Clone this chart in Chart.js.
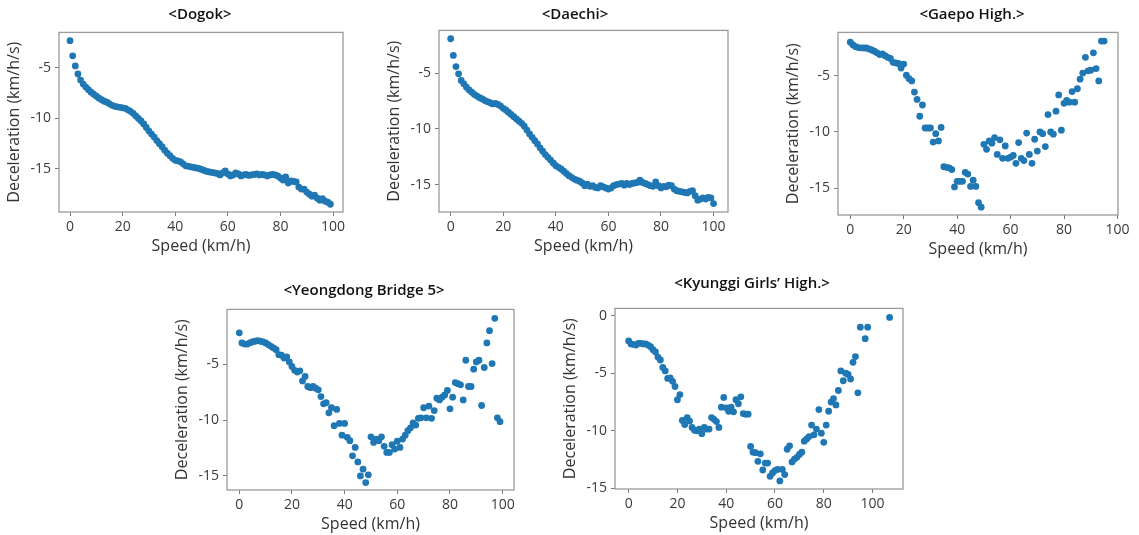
<!DOCTYPE html>
<html>
<head>
<meta charset="utf-8">
<script src="https://cdn.jsdelivr.net/npm/chart.js@4.4.0/dist/chart.umd.min.js"></script>
<style>
    html, body { margin: 0; padding: 0; background: #fff; }
    body { width: 1139px; height: 535px; position: relative; overflow: hidden; }
    canvas { position: absolute; }
    .panel-title {
        position: absolute;
        transform: translate(-50%, -50%);
        white-space: nowrap;
        font-family: "Open Sans", sans-serif;
        font-weight: 600;
        font-size: 15px;
        color: #111;
    }
</style>
</head>
<body>
<script>
const speedTicks = [0, 20, 40, 60, 80, 100];
const decelTicks = [-15, -10, -5];
const kyunggiDecelTicks = [-15, -10, -5, 0];

const dogokSpeed = [
    0, 1, 2, 3, 4, 5, 6, 7, 8, 9, 10, 11, 12, 13, 14, 15, 16, 17, 18, 19,
    20, 21, 22, 23, 24, 25, 26, 27, 28, 29, 30, 31, 32, 33, 34, 35, 36, 37, 38, 39,
    40, 41, 42, 43, 44, 45, 46, 47, 48, 49, 50, 51, 52, 53, 54, 55, 56, 57, 58, 59,
    60, 61, 62, 63, 64, 65, 66, 67, 68, 69, 70, 71, 72, 73, 74, 75, 76, 77, 78, 79,
    80, 81, 82, 83, 84, 85, 86, 87, 88, 89, 90, 91, 92, 93, 94, 95, 96, 97, 98, 99
];
const dogokDecel = [
    -2.3, -3.8, -4.8, -5.6, -6.2, -6.6, -6.9, -7.15, -7.4, -7.6,
    -7.8, -8.0, -8.15, -8.3, -8.4, -8.55, -8.7, -8.8, -8.85, -8.9,
    -8.95, -9.0, -9.15, -9.3, -9.5, -9.75, -10.0, -10.25, -10.55, -10.9,
    -11.25, -11.55, -11.85, -12.2, -12.5, -12.8, -13.15, -13.45, -13.7, -13.95,
    -14.15, -14.2, -14.3, -14.5, -14.7, -14.75, -14.8, -14.85, -14.9, -14.95,
    -15.05, -15.15, -15.25, -15.3, -15.35, -15.4, -15.45, -15.6, -15.4, -15.2,
    -15.5, -15.7, -15.6, -15.4, -15.5, -15.7, -15.6, -15.55, -15.65, -15.6,
    -15.55, -15.5, -15.6, -15.55, -15.6, -15.7, -15.6, -15.55, -15.6, -15.7,
    -15.9, -16.1, -15.8, -16.4, -16.2, -16.25, -16.3, -16.8, -17.0, -17.0,
    -17.3, -17.5, -17.7, -17.6, -17.9, -18.1, -17.95, -18.2, -18.3, -18.5
];

const daechiSpeed = [
    0, 1, 2, 3, 4, 5, 6, 7, 8, 9, 10, 11, 12, 13, 14, 15, 16, 17, 18, 19,
    20, 21, 22, 23, 24, 25, 26, 27, 28, 29, 30, 31, 32, 33, 34, 35, 36, 37, 38, 39,
    40, 41, 42, 43, 44, 45, 46, 47, 48, 49, 50, 51, 52, 53, 54, 55, 56, 57, 58, 59,
    60, 61, 62, 63, 64, 65, 66, 67, 68, 69, 70, 71, 72, 73, 74, 75, 76, 77, 78, 79,
    80, 81, 82, 83, 84, 85, 86, 87, 88, 89, 90, 91, 92, 93, 94, 95, 96, 97, 98, 99, 100
];
const daechiDecel = [
    -1.9, -3.4, -4.4, -5.05, -5.65, -5.95, -6.25, -6.5, -6.7, -6.9,
    -7.05, -7.2, -7.3, -7.45, -7.55, -7.65, -7.75, -7.7, -7.8, -7.95,
    -8.15, -8.3, -8.5, -8.7, -8.9, -9.1, -9.3, -9.5, -9.75, -10.1,
    -10.45, -10.75, -11.05, -11.35, -11.7, -12.0, -12.3, -12.55, -12.8, -13.05,
    -13.3, -13.45, -13.6, -13.8, -14.0, -14.2, -14.35, -14.5, -14.6, -14.7,
    -14.85, -15.1, -14.95, -15.15, -15.1, -15.25, -15.3, -15.1, -15.2, -15.3,
    -15.4, -15.3, -15.1, -15.0, -14.95, -14.9, -15.05, -14.9, -15.0, -14.9,
    -14.85, -14.8, -14.6, -14.8, -14.9, -15.0, -15.1, -15.15, -14.75, -15.1,
    -15.3, -15.15, -15.2, -15.05, -15.1, -15.4, -15.55, -15.6, -15.65, -15.7,
    -15.75, -15.6, -15.55, -16.0, -16.4, -16.3, -16.2, -16.3, -16.15, -16.2,
    -16.7
];

const gaepoSpeed = [
    0, 1, 2, 3, 4, 5, 6, 7, 8, 9, 10, 11, 12, 13, 14, 15, 16, 17, 18, 19,
    20, 21, 22, 23, 24, 25, 26, 27, 28, 29, 30, 31, 32, 33, 34, 35, 36, 37, 38, 39,
    40, 41, 42, 43, 44, 45, 46, 47, 48, 49, 50, 51, 52, 53, 54, 55, 56, 57, 58, 59,
    60, 61, 62, 63, 64, 65, 66, 67, 68, 69, 70, 71, 72, 73, 74, 75, 76, 77, 78, 79,
    80, 81, 82, 83, 84, 85, 86, 87, 88, 89, 90, 91, 92, 93, 94, 95
];
const gaepoDecel = [
    -2.0, -2.25, -2.4, -2.48, -2.5, -2.52, -2.52, -2.6, -2.7, -2.8,
    -2.95, -3.1, -3.05, -3.2, -3.35, -3.45, -3.8, -3.85, -3.9, -4.3,
    -3.95, -4.95, -5.25, -5.45, -6.45, -7.1, -8.6, -7.6, -9.65, -9.65,
    -9.65, -10.9, -10.15, -10.8, -9.6, -13.1, -13.15, -13.2, -13.35, -14.9,
    -14.4, -14.4, -14.4, -13.6, -13.75, -14.85, -14.3, -14.85, -16.3, -16.7,
    -11.1, -11.55, -10.8, -11.0, -10.5, -12.0, -10.7, -12.35, -11.25, -12.35,
    -12.25, -12.1, -12.8, -10.95, -12.35, -12.55, -10.1, -12.0, -12.8, -10.65,
    -11.7, -10.0, -10.15, -11.3, -8.45, -10.0, -10.2, -8.15, -6.7, -9.85,
    -7.45, -7.2, -7.35, -6.4, -7.35, -6.15, -5.3, -4.75, -3.35, -4.55,
    -4.5, -2.95, -4.35, -5.45, -1.9, -1.9
];

const yeongdongSpeed = [
    0, 1, 2, 3, 4, 5, 6, 7, 8, 9, 10, 11, 12, 13, 14, 15, 16, 17, 18, 19,
    20, 21, 22, 23, 24, 25, 26, 27, 28, 29, 30, 31, 32, 33, 34, 35, 36, 37, 38, 39,
    40, 41, 42, 43, 44, 45, 46, 47, 48, 49, 50, 51, 52, 53, 54, 55, 56, 57, 58, 59,
    60, 61, 62, 63, 64, 65, 66, 67, 68, 69, 70, 71, 72, 73, 74, 75, 76, 77, 78, 79,
    80, 81, 82, 83, 84, 85, 86, 87, 88, 89, 90, 91, 92, 93, 94, 95, 96, 97, 98, 99
];
const yeongdongDecel = [
    -2.2, -3.1, -3.2, -3.2, -3.1, -3.0, -2.95, -2.9, -2.95, -3.0,
    -3.1, -3.25, -3.4, -3.55, -3.7, -4.15, -4.2, -4.45, -4.35, -4.8,
    -5.2, -5.55, -5.7, -5.6, -6.5, -6.1, -7.0, -7.1, -7.0, -7.15,
    -7.3, -7.9, -8.55, -8.45, -9.35, -8.9, -10.5, -9.05, -10.3, -11.35,
    -10.3, -11.55, -11.85, -13.2, -12.45, -13.75, -15.0, -14.4, -15.6, -14.9,
    -11.5, -12.0, -11.7, -11.85, -11.5, -12.35, -12.9, -12.9, -12.2, -12.6,
    -11.9, -12.45, -11.7, -11.35, -10.95, -10.7, -10.25, -10.45, -9.85, -9.8,
    -8.9, -9.8, -8.75, -9.85, -9.15, -8.05, -8.2, -7.95, -7.75, -7.35,
    -9.0, -7.95, -6.65, -6.75, -6.85, -8.2, -4.65, -7.0, -7.0, -5.45,
    -4.8, -4.65, -8.7, -5.3, -3.1, -2.0, -4.95, -0.9, -9.8, -10.15
];

const kyunggiSpeed = [
    0, 1, 2, 3, 4, 5, 6, 7, 8, 9, 10, 11, 12, 13, 14, 15, 16, 17, 18, 19,
    20, 21, 22, 23, 24, 25, 26, 27, 28, 29, 30, 31, 32, 33, 34, 35, 36, 37, 38, 39,
    40, 41, 42, 43, 44, 45, 46, 47, 48, 49, 50, 51, 52, 53, 54, 55, 56, 57, 58, 59,
    60, 61, 62, 63, 64, 65, 66, 67, 68, 69, 70, 71, 72, 73, 74, 75, 76, 77, 78, 79,
    80, 81, 82, 83, 84, 85, 86, 87, 88, 89, 90, 91, 92, 93, 94, 95, 97, 98, 107
];
const kyunggiDecel = [
    -2.2, -2.45, -2.5, -2.55, -2.4, -2.4, -2.45, -2.45, -2.55, -2.7,
    -2.95, -3.15, -3.6, -3.85, -4.5, -4.8, -5.45, -5.4, -5.7, -6.15,
    -7.3, -6.85, -9.1, -9.45, -8.85, -9.15, -9.7, -9.95, -10.0, -9.85,
    -10.25, -9.7, -9.85, -9.85, -8.85, -9.0, -9.2, -9.7, -7.95, -7.1,
    -8.0, -8.3, -7.95, -8.35, -7.3, -7.65, -7.05, -8.5, -8.55, -8.55,
    -11.35, -11.85, -11.9, -12.65, -12.0, -13.4, -12.8, -12.8, -13.95, -13.65,
    -13.45, -13.35, -14.35, -13.35, -13.8, -11.6, -11.3, -12.7, -12.45, -12.3,
    -12.05, -11.85, -10.9, -10.7, -10.5, -9.5, -10.35, -9.85, -8.15, -10.2,
    -11.0, -9.5, -8.3, -7.5, -7.2, -7.75, -6.5, -4.8, -5.65, -5.0,
    -5.1, -5.5, -4.05, -3.55, -6.7, -1.0, -2.0, -1.0, -0.15
];

// layout of the five panels (plot area in page pixels: left, top, right, bottom)
const panels = [
    { title: '<Dogok>', titleAt: [200, 13], area: [59, 30, 343, 212],
      xRange: [-4.2, 103.8], yRange: [-19.27, -1.48], speed: dogokSpeed, decel: dogokDecel, yTicks: decelTicks },
    { title: '<Daechi>', titleAt: [575, 13], area: [439, 28, 728, 212],
      xRange: [-4.45, 105.5], yRange: [-17.46, -1.15], speed: daechiSpeed, decel: daechiDecel, yTicks: decelTicks },
    { title: '<Gaepo High.>', titleAt: [972, 13], area: [838, 30, 1118, 215],
      xRange: [-4.6, 100.2], yRange: [-17.4, -1.13], speed: gaepoSpeed, decel: gaepoDecel, yTicks: decelTicks },
    { title: '<Yeongdong Bridge 5>', titleAt: [364, 289], area: [227, 307, 514, 490],
      xRange: [-4.66, 104.3], yRange: [-16.26, -0.1], speed: yeongdongSpeed, decel: yeongdongDecel, yTicks: decelTicks },
    { title: '<Kyunggi Girls\u2019 High.>', titleAt: [752, 282], area: [615, 306, 903, 489],
      xRange: [-5.6, 112.5], yRange: [-15.05, 0.63], speed: kyunggiSpeed, decel: kyunggiDecel, yTicks: kyunggiDecelTicks }
];

const FONT = '"Open Sans", sans-serif';
const Y_BOX = 60;   // width reserved for y ticks + title
const X_BOX = 46;   // height reserved for x ticks + title
const PAD_TOP = 10;
const PAD_RIGHT = 16;

// matplotlib-like frame around the axes
const frameBox = {
    id: 'frameBox',
    afterDatasetsDraw(chart) {
        const { ctx, chartArea: a } = chart;
        ctx.save();
        ctx.strokeStyle = '#9a9a9a';
        ctx.lineWidth = 1.3;
        ctx.strokeRect(a.left, a.top, a.right - a.left, a.bottom - a.top);
        ctx.restore();
    }
};

function buildPanel(p) {
    const [left, top, right, bottom] = p.area;
    const canvas = document.createElement('canvas');
    canvas.width = right - left + Y_BOX + PAD_RIGHT;
    canvas.height = bottom - top + X_BOX + PAD_TOP;
    canvas.style.left = (left - Y_BOX) + 'px';
    canvas.style.top = (top - PAD_TOP) + 'px';
    document.body.appendChild(canvas);

    const title = document.createElement('div');
    title.className = 'panel-title';
    title.textContent = p.title;
    title.style.left = p.titleAt[0] + 'px';
    title.style.top = p.titleAt[1] + 'px';
    document.body.appendChild(title);

    const axisGrid = { drawOnChartArea: false, drawTicks: true, tickLength: 4, color: '#777', lineWidth: 1 };

    return new Chart(canvas, {
        type: 'scatter',
        data: {
            datasets: [{
                data: p.speed.map((s, i) => ({ x: s, y: p.decel[i] })),
                backgroundColor: '#1f77b4',
                borderColor: '#1f77b4',
                borderWidth: 0,
                pointRadius: 3.4,
                pointHoverRadius: 3.4
            }]
        },
        options: {
            responsive: false,
            animation: false,
            devicePixelRatio: 1,
            layout: { padding: { top: PAD_TOP, right: PAD_RIGHT, bottom: 0, left: 0 } },
            plugins: {
                legend: { display: false },
                tooltip: { enabled: false }
            },
            scales: {
                x: {
                    type: 'linear',
                    min: p.xRange[0],
                    max: p.xRange[1],
                    afterBuildTicks: scale => { scale.ticks = speedTicks.map(v => ({ value: v })); },
                    afterFit: scale => { scale.height = X_BOX; },
                    grid: axisGrid,
                    border: { display: false },
                    ticks: { color: '#3a3a3a', font: { family: FONT, size: 14 }, padding: 3, maxRotation: 0 },
                    title: {
                        display: true,
                        text: 'Speed (km/h)',
                        color: '#333',
                        font: { family: FONT, size: 16 },
                        padding: { top: 0, bottom: 2 }
                    }
                },
                y: {
                    type: 'linear',
                    min: p.yRange[0],
                    max: p.yRange[1],
                    afterBuildTicks: scale => { scale.ticks = p.yTicks.map(v => ({ value: v })); },
                    afterFit: scale => { scale.width = Y_BOX; },
                    grid: axisGrid,
                    border: { display: false },
                    ticks: { color: '#3a3a3a', font: { family: FONT, size: 14 }, padding: 4 },
                    title: {
                        display: true,
                        text: 'Deceleration (km/h/s)',
                        color: '#333',
                        font: { family: FONT, size: 16 },
                        padding: { top: 6, bottom: 0 }
                    }
                }
            }
        },
        plugins: [frameBox]
    });
}

panels.forEach(buildPanel);
</script>
</body>
</html>
